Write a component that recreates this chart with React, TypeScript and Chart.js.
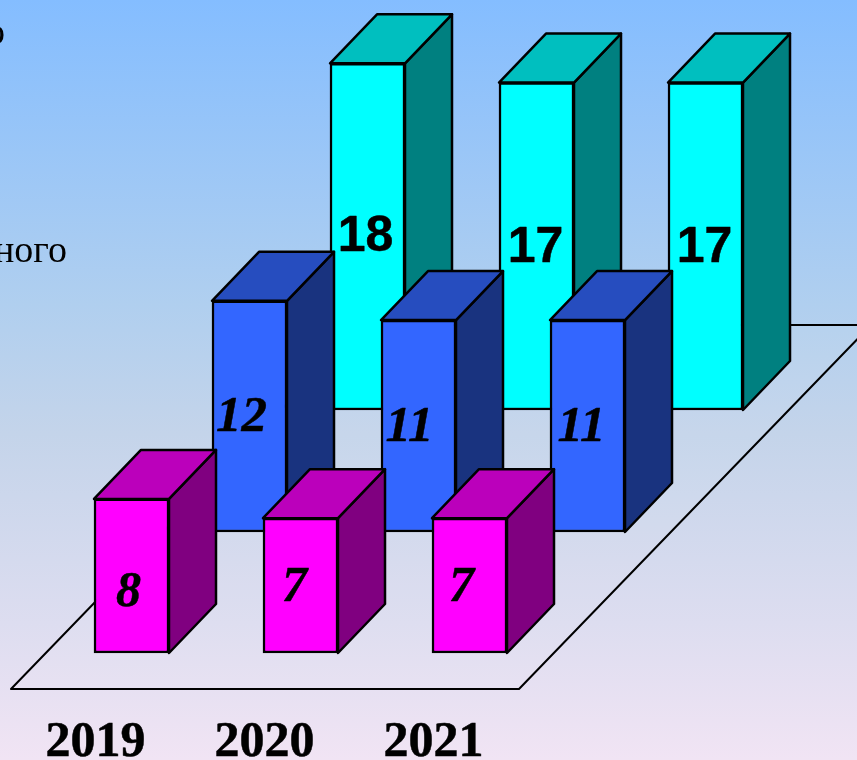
import React, { useEffect, useRef } from "react";
import { Chart, registerables } from "chart.js";

Chart.register(...registerables);

const categories = ["2019", "2020", "2021"];
const frontValues = [8, 7, 7];
const middleValues = [12, 11, 11];
const backValues = [18, 17, 17];
const captionFragments = ["о", "ного"];

const WIDTH = 857;
const HEIGHT = 760;
const DEPTH_X = 47;
const DEPTH_Y = -49;
const EDGE = 2.5;
const SERIF = '"Liberation Serif", "Times New Roman", serif';
const SANS = '"Liberation Sans", Arial, sans-serif';

type Row = {
  shiftX: number;
  shiftY: number;
  face: string;
  top: string;
  side: string;
  labelFont: string;
  labelDx: number[];
  labelDy: number[];
};

const rows: Row[] = [
  { shiftX: 0, shiftY: 0, face: "#FF00FF", top: "#BB00BB", side: "#800080", labelFont: `italic bold 50px ${SERIF}`, labelDx: [-3, -6, -8], labelDy: [15, 0, 0] },
  { shiftX: 118, shiftY: -121, face: "#3366FF", top: "#264DBF", side: "#19337F", labelFont: `italic bold 51px ${SERIF}`, labelDx: [-8, -9, -6], labelDy: [-1, 0, 0] },
  { shiftX: 236, shiftY: -243, face: "#00FFFF", top: "#00BFBF", side: "#008080", labelFont: `bold 50px ${SANS}`, labelDx: [-2, -1, -1], labelDy: [-1, 0, 0] },
];

const poly = (ctx: CanvasRenderingContext2D, pts: number[][], fill: string | null) => {
  ctx.beginPath();
  pts.forEach(([x, y], i) => (i ? ctx.lineTo(x, y) : ctx.moveTo(x, y)));
  ctx.closePath();
  if (fill) {
    ctx.fillStyle = fill;
    ctx.fill();
  }
  ctx.stroke();
};

const scenePlugin = {
  id: "scene3d",
  beforeDraw(chart: any) {
    const { ctx, width, height } = chart;
    const g = ctx.createLinearGradient(0, 0, 0, height);
    g.addColorStop(0, "#84BDFF");
    g.addColorStop(0.4, "#B0CFEF");
    g.addColorStop(0.57, "#C4D4EA");
    g.addColorStop(0.82, "#DDDDF0");
    g.addColorStop(1, "#F1E4F4");
    ctx.save();
    ctx.fillStyle = g;
    ctx.fillRect(0, 0, width, height);
    ctx.fillStyle = "#000";
    ctx.font = `38px ${SERIF}`;
    ctx.textAlign = "right";
    ctx.textBaseline = "alphabetic";
    ctx.fillText(captionFragments[0], 5, 44);
    ctx.fillText(captionFragments[1], 67, 262);
    ctx.restore();
  },
  beforeDatasetsDraw(chart: any) {
    const { ctx } = chart;
    const y0 = chart.scales.y.getPixelForValue(0);
    const front = y0 + 36;
    const back = y0 - 328;
    ctx.save();
    ctx.strokeStyle = "#000";
    ctx.lineWidth = 2;
    ctx.lineJoin = "round";
    poly(
      ctx,
      [
        [11, front],
        [519, front],
        [871, back],
        [363, back],
      ],
      "rgba(255,255,255,0.05)"
    );
    ctx.restore();
  },
  beforeDatasetDraw(chart: any, args: any) {
    const { ctx } = chart;
    const row = rows[args.index];
    ctx.save();
    ctx.translate(row.shiftX, row.shiftY);
    ctx.strokeStyle = "#000";
    ctx.lineWidth = EDGE;
    ctx.lineJoin = "round";
    args.meta.data.forEach((el: any) => {
      const { x, y, base, width } = el.getProps(["x", "y", "base", "width"], true);
      const l = x - width / 2;
      const r = x + width / 2;
      poly(ctx, [[r, y], [r + DEPTH_X, y + DEPTH_Y], [r + DEPTH_X, base + DEPTH_Y], [r, base]], row.side);
      poly(ctx, [[l, y], [l + DEPTH_X, y + DEPTH_Y], [r + DEPTH_X, y + DEPTH_Y], [r, y]], row.top);
    });
  },
  afterDatasetDraw(chart: any, args: any) {
    const { ctx } = chart;
    const row = rows[args.index];
    const values = chart.data.datasets[args.index].data;
    ctx.fillStyle = "#000";
    ctx.strokeStyle = "#000";
    ctx.lineWidth = 0.5;
    ctx.font = row.labelFont;
    ctx.textAlign = "center";
    ctx.textBaseline = "middle";
    args.meta.data.forEach((el: any, i: number) => {
      const { x, y, base } = el.getProps(["x", "y", "base"], true);
      const tx = x + row.labelDx[i];
      const ty = (y + base) / 2 + row.labelDy[i] + 2;
      ctx.fillText(String(values[i]), tx, ty);
      ctx.strokeText(String(values[i]), tx, ty);
    });
    ctx.restore();
  },
};

const seriesData = [frontValues, middleValues, backValues];

export default function App() {
  const ref = useRef<HTMLCanvasElement>(null);
  useEffect(() => {
    document.body.style.margin = "0";
    const chart = new Chart(ref.current as HTMLCanvasElement, {
      type: "bar",
      plugins: [scenePlugin],
      data: {
        labels: categories,
        datasets: seriesData.map((data, i) => ({
          data,
          backgroundColor: rows[i].face,
          borderColor: "#000",
          borderWidth: EDGE,
          borderSkipped: false,
          barThickness: 75,
          clip: false as any,
        })),
      },
      options: {
        animation: false,
        responsive: false,
        devicePixelRatio: 1,
        layout: { padding: { left: 47, right: 303, top: 0, bottom: 0 } },
        plugins: { legend: { display: false }, tooltip: { enabled: false } },
        scales: {
          x: {
            stacked: true,
            grid: { display: false },
            border: { display: false },
            afterFit(scale: any) {
              scale.height = 107;
            },
            ticks: {
              color: "#000",
              font: { family: SERIF, size: 50, weight: "bold" },
              textStrokeColor: "#000",
              textStrokeWidth: 0.5,
              labelOffset: -36,
              padding: 52,
              maxRotation: 0,
              autoSkip: false,
            },
          },
          y: { display: false, min: 0, max: 33.9, stacked: false },
        },
      },
    } as any);
    return () => chart.destroy();
  }, []);
  return (
    <div style={{ width: WIDTH, height: HEIGHT, overflow: "hidden" }}>
      <canvas ref={ref} width={WIDTH} height={HEIGHT} style={{ display: "block" }} />
    </div>
  );
}
